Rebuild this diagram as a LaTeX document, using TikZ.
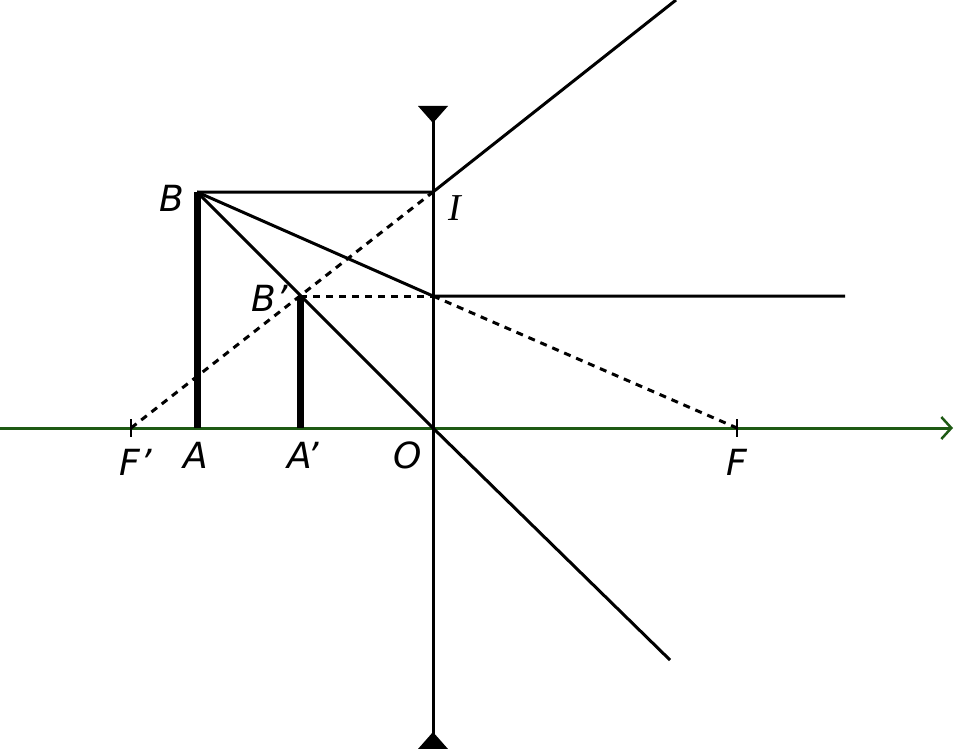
\documentclass[tikz,border=0pt]{standalone}
\usepackage{fontspec}
\setmainfont{DejaVu Sans}
\newfontfamily\serifI{Liberation Serif}
\usetikzlibrary{arrows.meta}
\definecolor{axisgreen}{RGB}{30,90,20}
\begin{document}
\begin{tikzpicture}[x=1pt,y=-1pt,
  ray/.style={line width=3pt,black},
  dray/.style={line width=3pt,black,dash pattern=on 7pt off 6pt},
  obj/.style={line width=7pt,black},
  lbl/.style={font=\fontsize{36}{36}\selectfont\itshape,inner sep=0pt}]
\useasboundingbox (0,0) rectangle (955,749);
\coordinate (L) at (0,428);
\coordinate (R) at (953,428);
\coordinate (O) at (433,428);
\coordinate (F) at (737,428);
\coordinate (Fp) at (131,428);
\coordinate (B) at (197,192);
\coordinate (A) at (197,428);
\coordinate (Bp) at (300,296);
\coordinate (Ap) at (300,428);
\coordinate (I) at (433,192);
\coordinate (J) at (433,296);
\coordinate (LT) at (433,108);
\coordinate (LB) at (433,748);
\coordinate (E1) at (676,0);
\coordinate (E2) at (845,296);
\coordinate (E3) at (670,660);
\draw[line width=3pt,axisgreen,-{Straight Barb[length=10pt,width=22pt,line width=2.5pt]}] (L) -- (R);
\draw[line width=3pt] (LT) -- (LB);
\fill (418,106) -- (448,106) -- (433,123) -- cycle;
\fill (418,749) -- (448,749) -- (433,732) -- cycle;
\draw[line width=2.5pt] (131,419) -- (131,437);
\draw[line width=2.5pt] (737,419) -- (737,437);
\draw[obj] (A) -- (B);
\draw[obj] (Ap) -- (Bp);
\draw[ray] (B) -- (I) -- (E1);
\draw[dray] (Fp) -- (I);
\draw[ray] (B) -- (J) -- (E2);
\draw[dray] (Bp) -- (J);
\draw[dray] (J) -- (F);
\draw[ray] (B) -- (O) -- (E3);
\node[lbl] (nB) at (172,198) {B};
\node[inner sep=0pt,font=\fontsize{38}{38}\selectfont\serifI\itshape] (nI) at (455,208) {I};
\node[lbl] (nBp) at (270,298) {B’};
\node[lbl] (nFp) at (136,462) {F’};
\node[lbl] (nA) at (196,455) {A};
\node[lbl] (nAp) at (303,455) {A’};
\node[lbl] (nO) at (408,455) {O};
\node[lbl] (nF) at (737,462) {F};
\end{tikzpicture}
\end{document}
